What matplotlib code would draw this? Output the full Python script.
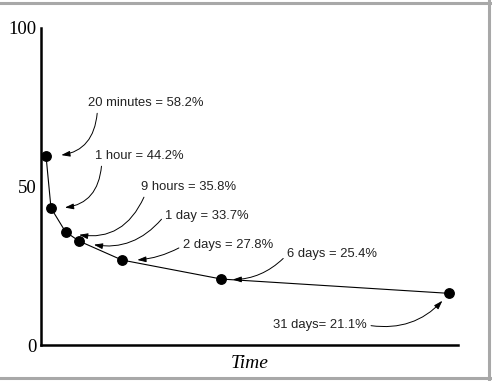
import matplotlib
matplotlib.use("Agg")
import matplotlib.pyplot as plt
from matplotlib.lines import Line2D

# positions along the (unscaled) time axis
x_pos = [5, 10, 24.5, 38, 81, 180.5, 407.7]
retention = [59.7, 43.2, 35.7, 32.8, 26.8, 20.8, 16.3]
labels = ["20 minutes = 58.2%", "1 hour = 44.2%", "9 hours = 35.8%",
          "1 day = 33.7%", "2 days = 27.8%", "6 days = 25.4%", "31 days= 21.1%"]
y_ticks = [0, 50, 100]

# label centre (data units), arrow start on the label box, curvature, gap at the dot
label_xy = [(105, 76.3), (98, 59.6), (147.5, 49.8), (166, 40.7),
            (187, 31.5), (291, 28.7), (279, 6.3)]
rel_pos = [(0.08, 0), (0.08, 0), (0.05, 0), (0, 0.6), (0, 0.45), (0, 0.45), (1, 0.5)]
rads = [-0.5, -0.5, -0.45, -0.35, -0.15, -0.25, 0.3]
gaps = [11, 10, 10, 11, 11, 8, 7]

fig = plt.figure(figsize=(4.92, 3.81), dpi=100)
ax = fig.add_axes([41 / 492, 36 / 381, 417 / 492, 317 / 381])

ax.plot(x_pos, retention, color="black", lw=0.8, marker="o", ms=6.8, zorder=3)

ax.set_xlim(0, 417)
ax.set_ylim(0, 100)
ax.set_xticks([])
ax.set_yticks(y_ticks)
ax.set_yticklabels([str(v) for v in y_ticks], family="Liberation Serif", fontsize=13.5)
ax.tick_params(axis="y", length=0, pad=3)
for s in ["top", "right"]:
    ax.spines[s].set_visible(False)
for s in ["left", "bottom"]:
    ax.spines[s].set_linewidth(1.8)
ax.set_xlabel("Time", family="Liberation Serif", style="italic", fontsize=14, labelpad=7)

for i in range(len(labels)):
    ax.annotate(labels[i], xy=(x_pos[i], retention[i]), xytext=label_xy[i],
                ha="center", va="center", fontsize=9.4,
                family="Liberation Sans", color="#222222",
                arrowprops=dict(arrowstyle="-|>,head_length=0.55,head_width=0.18",
                                color="black", lw=0.7, relpos=rel_pos[i],
                                shrinkA=1, shrinkB=gaps[i],
                                connectionstyle="arc3,rad=%s" % rads[i]))

# grey frame of the original screenshot
for xs, ys in [((0, 1), (0.993, 0.993)), ((0.994, 0.994), (0, 1)), ((0, 1), (0.009, 0.009))]:
    fig.add_artist(Line2D(xs, ys, transform=fig.transFigure, color="#a8a8a8", lw=2.2))

fig.savefig("out.png", dpi=100)
